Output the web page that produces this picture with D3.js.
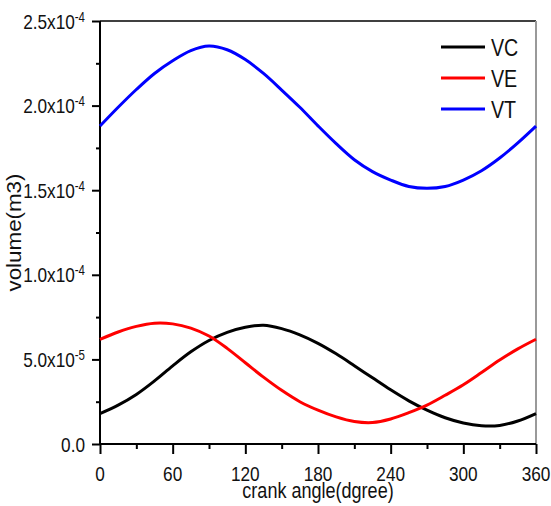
<!DOCTYPE html>
<html>
<head>
<meta charset="utf-8">
<script src="https://cdn.jsdelivr.net/npm/d3@7"></script>
<style>
  body { margin: 0; background: #fff; }
  text { font-family: "Liberation Sans", Arial, sans-serif; fill: #111; }
</style>
</head>
<body>
<svg id="chart" width="551" height="506"></svg>
<script>
// crank angle (degree), one reading every 15 degrees
const angles = [0, 15, 30, 45, 60, 75, 90, 105, 120, 135, 150, 165, 180,
  195, 210, 225, 240, 255, 270, 285, 300, 315, 330, 345, 360];

// volumes (m3)
const vcValues = [1.80e-5, 2.30e-5, 2.93e-5, 3.73e-5, 4.62e-5, 5.45e-5, 6.12e-5, 6.60e-5, 6.90e-5,
  7.02e-5, 6.82e-5, 6.45e-5, 5.95e-5, 5.33e-5, 4.63e-5, 3.91e-5, 3.20e-5, 2.55e-5, 2.00e-5,
  1.55e-5, 1.24e-5, 1.08e-5, 1.10e-5, 1.36e-5, 1.80e-5];

const veValues = [6.19e-5, 6.62e-5, 6.95e-5, 7.14e-5, 7.10e-5, 6.85e-5, 6.38e-5, 5.65e-5, 4.80e-5,
  3.95e-5, 3.17e-5, 2.50e-5, 2.00e-5, 1.60e-5, 1.33e-5, 1.27e-5, 1.48e-5, 1.85e-5, 2.30e-5,
  2.88e-5, 3.50e-5, 4.22e-5, 4.96e-5, 5.62e-5, 6.19e-5];

const vtValues = [1.879e-4, 1.990e-4, 2.095e-4, 2.190e-4, 2.265e-4, 2.325e-4, 2.352e-4, 2.330e-4, 2.272e-4,
  2.190e-4, 2.092e-4, 1.990e-4, 1.880e-4, 1.775e-4, 1.680e-4, 1.610e-4, 1.560e-4, 1.522e-4, 1.511e-4,
  1.522e-4, 1.560e-4, 1.615e-4, 1.690e-4, 1.780e-4, 1.879e-4];

const seriesNames = ['VC', 'VE', 'VT'];
const seriesColors = ['#000000', '#ff0000', '#0000ff'];

const xTicks = [0, 60, 120, 180, 240, 300, 360];
const yTicks = [0, 5e-5, 1e-4, 1.5e-4, 2e-4, 2.5e-4];
const yTickBase = ['0.0', '5.0x10', '1.0x10', '1.5x10', '2.0x10', '2.5x10'];
const yTickExp = ['', '-5', '-4', '-4', '-4', '-4'];

const margin = {left: 100, right: 15, top: 21, bottom: 62};
const width = 551, height = 506;
const narrow = 0.82; // the picture uses a condensed face

const svg = d3.select('#chart');

const x = d3.scaleLinear().domain([0, 360]).range([margin.left, width - margin.right]);
const y = d3.scaleLinear().domain([0, 2.5e-4]).range([height - margin.bottom, margin.top]);

// frame: top black, right grey
svg.append('line')
  .attr('x1', x(0)).attr('x2', x(360))
  .attr('y1', y(2.5e-4)).attr('y2', y(2.5e-4))
  .attr('stroke', '#000').attr('stroke-width', 1.5);
svg.append('line')
  .attr('x1', x(360)).attr('x2', x(360))
  .attr('y1', y(2.5e-4)).attr('y2', y(0))
  .attr('stroke', '#999').attr('stroke-width', 2);

// x axis
const xAxis = svg.append('g').attr('transform', `translate(0,${y(0)})`);
xAxis.call(d3.axisBottom(x).tickValues(d3.range(0, 361, 30)).tickSize(5).tickFormat(''));
xAxis.selectAll('.tick line').attr('stroke-width', 2);
xAxis.select('.domain').attr('stroke-width', 2).attr('d', `M${x(0)},0H${x(360)}`);
xAxis.selectAll('.tick').filter(d => d % 60 === 0).select('line').attr('y2', 10);
xAxis.selectAll('.xlabel')
  .data(xTicks)
  .enter()
  .append('text')
  .attr('transform', d => `translate(${x(d)},37) scale(${narrow},1)`)
  .attr('text-anchor', 'middle')
  .attr('font-size', 21)
  .text(d => d);

// y axis
const yAxis = svg.append('g').attr('transform', `translate(${x(0)},0)`);
yAxis.call(d3.axisLeft(y).tickValues(d3.range(0, 11).map(i => i * 2.5e-5)).tickSize(4).tickFormat(''));
yAxis.selectAll('.tick line').attr('stroke-width', 2);
yAxis.select('.domain').attr('stroke-width', 2).attr('d', `M0,${y(0)}V${y(2.5e-4)}`);
yAxis.selectAll('.tick').filter((d, i) => i % 2 === 0).select('line').attr('x2', -8);

const yLabels = yAxis.selectAll('.ylabel')
  .data(yTicks)
  .enter()
  .append('text')
  .attr('transform', d => `translate(-15,${y(d)}) scale(${narrow},1)`)
  .attr('dy', '0.36em')
  .attr('text-anchor', 'end')
  .attr('font-size', 21);
yLabels.append('tspan').text((d, i) => yTickBase[i]);
yLabels.append('tspan')
  .attr('font-size', 14)
  .attr('dy', -7)
  .text((d, i) => yTickExp[i]);

// axis titles
svg.append('text')
  .attr('transform', `translate(${(x(0) + x(360)) / 2},498) scale(${narrow},1)`)
  .attr('text-anchor', 'middle')
  .attr('font-size', 22)
  .text('crank angle(dgree)');

svg.append('text')
  .attr('transform', `translate(21,${(y(0) + y(2.5e-4)) / 2}) rotate(-90)`)
  .attr('text-anchor', 'middle')
  .attr('font-size', 20)
  .attr('textLength', 118)
  .attr('lengthAdjust', 'spacingAndGlyphs')
  .text('volume(m3)');

// curves
const line = d3.line()
  .x(d => x(d[0]))
  .y(d => y(d[1]))
  .curve(d3.curveCatmullRom);

const series = [vcValues, veValues, vtValues].map(v => d3.zip(angles, v));

svg.selectAll('.curve')
  .data(series)
  .enter()
  .append('path')
  .attr('class', 'curve')
  .attr('d', line)
  .attr('fill', 'none')
  .attr('stroke', (d, i) => seriesColors[i])
  .attr('stroke-width', 3);

// legend
const legendRows = svg.append('g').selectAll('g')
  .data(seriesNames)
  .enter()
  .append('g')
  .attr('transform', (d, i) => `translate(441,${47 + i * 31})`);
legendRows.append('line')
  .attr('x1', 0).attr('x2', 44)
  .attr('stroke', (d, i) => seriesColors[i])
  .attr('stroke-width', 3);
legendRows.append('text')
  .attr('transform', `translate(50,0) scale(${narrow},1)`)
  .attr('dy', '0.36em')
  .attr('font-size', 24)
  .text(d => d);
</script>
</body>
</html>
